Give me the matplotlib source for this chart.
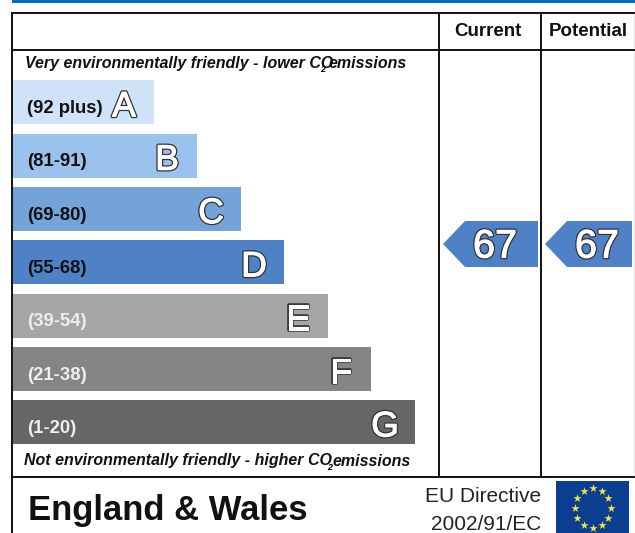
import numpy as np
import matplotlib
matplotlib.use("Agg")
from matplotlib import pyplot as plt
from matplotlib.patches import Polygon, Rectangle
import matplotlib.patheffects as pe

plt.rcParams['font.family'] = ['Liberation Sans', 'DejaVu Sans']

ranges = ["(92 plus)", "(81-91)", "(69-80)", "(55-68)", "(39-54)", "(21-38)", "(1-20)"]
letters = ["A", "B", "C", "D", "E", "F", "G"]
bar_lengths = [141, 184, 228, 271, 315, 358, 402]
bar_colors = ["#cfe2f7", "#9ac2ed", "#74a3da", "#4f81c6", "#a6a6a6", "#858585", "#666666"]
range_colors = ["#111111", "#111111", "#111111", "#111111", "#eeeeee", "#eeeeee", "#eeeeee"]
current = 67
potential = 67

fig = plt.figure(figsize=(6.35, 5.33), dpi=100)
ax = fig.add_axes([0, 0, 1, 1])
ax.set_xlim(0, 635)
ax.set_ylim(533, 0)
ax.axis("off")

# dark edge, then white again on top so the glyph looks bolder
outline = [pe.Stroke(linewidth=2.6, foreground="#333333"),
           pe.Stroke(linewidth=0.8, foreground="white"),
           pe.Normal()]

# top strip
ax.add_patch(Rectangle((12, 0), 623, 3, color="#0072bc", lw=0))

# bars
rows = 102.4 + np.arange(7) * 53.33
ax.barh(rows, bar_lengths, height=44, left=13, color=bar_colors, lw=0)
for y, n, r, c, l in zip(rows, bar_lengths, ranges, range_colors, letters):
    ax.text(27, y + 6, r, fontsize=13.3, fontweight="bold", color=c, va="center", ha="left")
    ax.text(13 + n - 30, y + 14, l, fontsize=25.5, color="white", va="baseline", ha="center",
            path_effects=outline, zorder=5)

# frame
line = dict(color="#111111", lw=1.4, solid_capstyle="butt")
ax.plot([12, 635], [12.5, 12.5], **line)
ax.plot([12, 635], [50, 50], **line)
ax.plot([12, 635], [477, 477], **line)
ax.plot([12, 12], [12, 533], **line)
ax.plot([438.5, 438.5], [12, 477], **line)
ax.plot([541, 541], [12, 477], **line)
ax.plot([634.5, 634.5], [12, 477], color="#888888", lw=1)

ax.text(488, 31, "Current", fontsize=13.5, fontweight="bold", ha="center", va="center", color="#111111")
ax.text(588, 31, "Potential", fontsize=13.5, fontweight="bold", ha="center", va="center", color="#111111")

# CO2 captions, the 2 and the word overlap like in the original
cap = dict(fontsize=11.55, fontweight="bold", style="italic", va="center", color="#111111")
ax.text(25, 63.5, "Very environmentally friendly - lower CO", ha="left", **cap)
ax.text(320, 70, "2", ha="left", fontsize=6.5, fontweight="bold", style="italic", va="center")
ax.text(407, 63.5, "emissions", ha="right", **cap)
ax.text(24, 461, "Not environmentally friendly - higher CO", ha="left", **cap)
ax.text(327, 467, "2", ha="left", fontsize=6.5, fontweight="bold", style="italic", va="center")
ax.text(411, 461, "emissions", ha="right", **cap)

# score arrows
for x0, x1, val in [(443, 538, current), (545, 632, potential)]:
    ax.add_patch(Polygon([(x0, 244), (x0 + 22, 221), (x1, 221), (x1, 267), (x0 + 22, 267)],
                         closed=True, fc="#4f81c6", ec="none"))
    ax.text(x0 + 52, 257.5, str(val), fontsize=28.5, color="white", ha="center",
            va="baseline", path_effects=outline, zorder=5)

# footer
ax.text(28, 510.5, "England & Wales", fontsize=24.9, fontweight="bold", ha="left", va="center", color="#111111")
ax.text(541, 497, "EU Directive", fontsize=15, ha="right", va="center", color="#222222")
ax.text(541, 524, "2002/91/EC", fontsize=15, ha="right", va="center", color="#222222")

# flag
ax.add_patch(Rectangle((556, 481), 73, 52, color="#0b3d91", lw=0))
ang = np.arange(12) * np.pi / 6
ax.scatter(592.5 + 18 * np.sin(ang), 508 - 20 * np.cos(ang), marker="*", s=38, color="#f2e63c", lw=0, zorder=5)

fig.savefig("out.png", dpi=100)
